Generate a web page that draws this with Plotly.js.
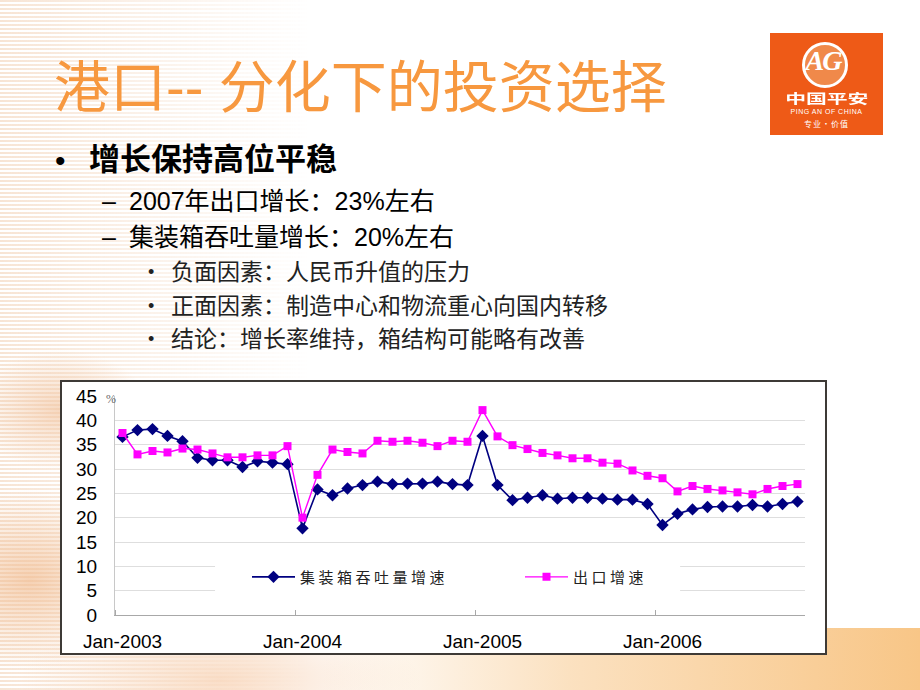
<!DOCTYPE html>
<html>
<head>
<meta charset="utf-8">
<script src="https://cdn.plot.ly/plotly-3.0.1.min.js"></script>
<style>
  html, body { margin:0; padding:0; }
  body { width:920px; height:690px; position:relative; overflow:hidden; background:#ffffff;
         font-family:"Liberation Sans", Arial, "Noto Sans CJK SC", sans-serif; }
  .abs { position:absolute; white-space:nowrap; }
  #stripes { left:0; top:0; width:520px; height:690px;
    background: repeating-linear-gradient(to bottom, rgba(238,196,160,0.45) 0px, rgba(238,196,160,0.45) 2px, rgba(255,255,255,0) 2px, rgba(255,255,255,0) 4px);
    -webkit-mask-image: linear-gradient(to right, rgba(0,0,0,1) 0%, rgba(0,0,0,0.55) 25%, rgba(0,0,0,0) 60%);
    mask-image: linear-gradient(to right, rgba(0,0,0,1) 0%, rgba(0,0,0,0.55) 25%, rgba(0,0,0,0) 60%); }
  #blobs { left:0; top:330px; width:460px; height:360px;
    background:
      radial-gradient(ellipse 90px 60px at 60px 80px, rgba(240,190,150,0.6), rgba(240,190,150,0) 100%),
      radial-gradient(ellipse 120px 90px at 30px 250px, rgba(240,185,140,0.65), rgba(240,185,140,0) 100%),
      radial-gradient(ellipse 200px 70px at 220px 350px, rgba(245,195,155,0.55), rgba(245,195,155,0) 100%); }
  #band { left:0; top:628px; width:920px; height:62px;
    background: linear-gradient(to right, rgba(248,200,140,0) 35%, rgba(248,200,140,0.55) 62%, rgba(248,198,135,1) 100%); }
  #chartbox { left:60px; top:380px; width:767px; height:275px; box-sizing:border-box;
    border:2px solid #3e3a36; background:#ffffff; }
  #chart { position:absolute; left:0; top:0; width:763px; height:271px; }
  #chart .legendtext { letter-spacing:3.5px; }
  .cjk { font-family:"Liberation Sans", Arial, "Noto Sans CJK SC", sans-serif; }
  #logo { left:770px; top:33px; width:113px; height:102px; background:#EE5A17; }
  #logo .ring { position:absolute; left:32px; top:9px; width:40px; height:40px; border-radius:50%;
    border:3px solid #ffffff; background:#F0894A; }
  #logo .ag { position:absolute; left:0; top:12px; width:106px; text-align:center; color:#fff;
    font: italic bold 28px "Liberation Serif", serif; letter-spacing:-2px; }
  #logo .cn { position:absolute; left:0; top:55px; width:113px; text-align:center; color:#fff;
    font: bold 13px "Noto Sans CJK SC", sans-serif; line-height:19px; transform:scaleX(1.6); transform-origin:56px 0; }
  #logo .en { position:absolute; left:0; top:75px; width:113px; text-align:center; color:#fff;
    font: 7px "Liberation Sans", sans-serif; letter-spacing:0.5px; line-height:8px; }
  #logo .sl { position:absolute; left:0; top:85px; width:113px; text-align:center; color:#fff;
    font: 8px "Noto Sans CJK SC", sans-serif; line-height:12px; letter-spacing:1px; }
</style>
</head>
<body>
<div id="stripes" class="abs"></div>
<div id="blobs" class="abs"></div>
<div id="band" class="abs"></div>

<div class="abs cjk" style="left:54px;top:54px;font-size:56px;line-height:68px;color:#F7983F;">港口-- 分化下的投资选择</div>

<div id="logo" class="abs">
  <div class="ring"></div>
  <div class="ag">AG</div>
  <div class="cn">中国平安</div>
  <div class="en">PING AN OF CHINA</div>
  <div class="sl">专业·价值</div>
</div>

<div class="abs" style="left:55px;top:143px;font-size:30px;line-height:36px;color:#000;">•</div>
<div class="abs cjk" style="left:89px;top:142px;font-size:31px;line-height:36px;font-weight:bold;color:#000;">增长保持高位平稳</div>

<div class="abs" style="left:102px;top:186px;font-size:25px;line-height:30px;color:#000;">–</div>
<div class="abs cjk" style="left:129px;top:186px;font-size:25px;line-height:30px;color:#000;">2007年出口增长：23%左右</div>
<div class="abs" style="left:102px;top:222px;font-size:25px;line-height:30px;color:#000;">–</div>
<div class="abs cjk" style="left:129px;top:222px;font-size:25px;line-height:30px;color:#000;">集装箱吞吐量增长：20%左右</div>

<div class="abs" style="left:148px;top:258px;font-size:18px;line-height:28px;color:#222;">•</div>
<div class="abs cjk" style="left:171px;top:258px;font-size:23px;line-height:28px;color:#222;">负面因素：人民币升值的压力</div>
<div class="abs" style="left:148px;top:292px;font-size:18px;line-height:28px;color:#222;">•</div>
<div class="abs cjk" style="left:171px;top:292px;font-size:23px;line-height:28px;color:#222;">正面因素：制造中心和物流重心向国内转移</div>
<div class="abs" style="left:148px;top:325px;font-size:18px;line-height:28px;color:#222;">•</div>
<div class="abs cjk" style="left:171px;top:325px;font-size:23px;line-height:28px;color:#222;">结论：增长率维持，箱结构可能略有改善</div>

<div id="chartbox" class="abs"><div id="chart"></div></div>

<script>
// ---- data (monthly, Jan-2003 .. Oct-2006) ----
var months = [
  "Jan-2003","Feb-2003","Mar-2003","Apr-2003","May-2003","Jun-2003","Jul-2003","Aug-2003","Sep-2003","Oct-2003","Nov-2003","Dec-2003",
  "Jan-2004","Feb-2004","Mar-2004","Apr-2004","May-2004","Jun-2004","Jul-2004","Aug-2004","Sep-2004","Oct-2004","Nov-2004","Dec-2004",
  "Jan-2005","Feb-2005","Mar-2005","Apr-2005","May-2005","Jun-2005","Jul-2005","Aug-2005","Sep-2005","Oct-2005","Nov-2005","Dec-2005",
  "Jan-2006","Feb-2006","Mar-2006","Apr-2006","May-2006","Jun-2006","Jul-2006","Aug-2006","Sep-2006","Oct-2006"
];
var containerGrowth = [
  36.6, 38.0, 38.2, 36.8, 35.7, 32.3, 31.8, 31.8, 30.4, 31.6, 31.3, 31.0,
  17.8, 25.8, 24.6, 26.0, 26.7, 27.4, 26.9, 27.0, 27.0, 27.4, 26.9, 26.7,
  36.8, 26.7, 23.6, 24.1, 24.6, 23.9, 24.1, 24.1, 23.9, 23.7, 23.7, 22.8,
  18.5, 20.8, 21.7, 22.2, 22.3, 22.3, 22.6, 22.3, 22.8, 23.3
];
var exportGrowth = [
  37.4, 33.0, 33.7, 33.4, 34.2, 34.0, 33.2, 32.4, 32.4, 32.8, 32.8, 34.7,
  20.0, 28.8, 34.0, 33.5, 33.2, 35.8, 35.6, 35.8, 35.4, 34.7, 35.8, 35.6,
  42.1, 36.7, 34.9, 34.1, 33.3, 32.8, 32.2, 32.2, 31.3, 31.1, 29.7, 28.6,
  28.1, 25.4, 26.5, 25.9, 25.6, 25.2, 24.8, 25.9, 26.5, 26.9
];
var seriesNames = ["集装箱吞吐量增速", "出口增速"];
var tickLabels = ["Jan-2003", "Jan-2004", "Jan-2005", "Jan-2006"];
var yTicks = [0, 5, 10, 15, 20, 25, 30, 35, 40, 45];

// category positions (equal spacing, like the original category axis)
var xIdx = months.map(function (m, i) { return i; });
var tickIdx = tickLabels.map(function (l) { return months.indexOf(l); });
var boundaryIdx = tickIdx.map(function (i) { return i - 0.5; });

var traces = [
  { x: xIdx, y: containerGrowth, name: seriesNames[0], type: 'scatter', mode: 'lines+markers',
    line: { color: '#000080', width: 1.6 },
    marker: { symbol: 'diamond', size: 9.5, color: '#000080' } },
  { x: xIdx, y: exportGrowth, name: seriesNames[1], type: 'scatter', mode: 'lines+markers',
    line: { color: '#FF00FF', width: 1.4 },
    marker: { symbol: 'square', size: 8, color: '#FF00FF' } }
];

var layout = {
  width: 763, height: 271,
  margin: { l: 53, r: 20, t: 14, b: 38, pad: 0 },
  paper_bgcolor: '#ffffff', plot_bgcolor: '#ffffff',
  font: { family: 'Arial, "Liberation Sans", sans-serif', size: 19, color: '#000000' },
  showlegend: true,
  xaxis: {
    range: [-0.5, months.length - 0.5],
    tickmode: 'array', tickvals: tickIdx, ticktext: tickLabels,
    ticks: '', showgrid: false, zeroline: false,
    showline: true, linecolor: '#a8a8a8', linewidth: 1,
    ticklabelstandoff: 9,
    tickfont: { family: 'Arial, "Liberation Sans", sans-serif', size: 19, color: '#000' },
    minor: { tickmode: 'array', tickvals: boundaryIdx, ticks: 'inside', ticklen: 5, tickcolor: '#a8a8a8', tickwidth: 1, showgrid: false }
  },
  yaxis: {
    range: [0, 45], tickmode: 'array', tickvals: yTicks,
    ticks: '', showgrid: true, gridcolor: '#dedede', gridwidth: 1,
    zeroline: false, showline: true, linecolor: '#c8c8c8', linewidth: 1,
    ticklabelstandoff: 13,
    tickfont: { family: 'Arial, "Liberation Sans", sans-serif', size: 19, color: '#000' }
  },
  legend: {
    orientation: 'h', x: 0.1913, xanchor: 'left', y: 0.173, yanchor: 'middle',
    bgcolor: 'rgba(0,0,0,0)', borderwidth: 0,
    font: { family: '"Noto Sans CJK SC", sans-serif', size: 15, color: '#222222' },
    itemwidth: 43, entrywidth: 215, traceorder: 'normal'
  },
  shapes: [
    { type: 'rect', xref: 'paper', yref: 'paper', x0: 0.145, x1: 0.819, y0: 0.023, y1: 0.319,
      fillcolor: '#ffffff', line: { width: 0 }, layer: 'above' }
  ],
  annotations: [
    { xref: 'paper', yref: 'paper', x: -0.006, y: 0.987, xanchor: 'center', yanchor: 'middle',
      text: '%', showarrow: false, font: { family: '"Liberation Serif", serif', size: 12, color: '#666666' } }
  ]
};

Plotly.newPlot('chart', traces, layout, { displayModeBar: false, staticPlot: true });
</script>
</body>
</html>
